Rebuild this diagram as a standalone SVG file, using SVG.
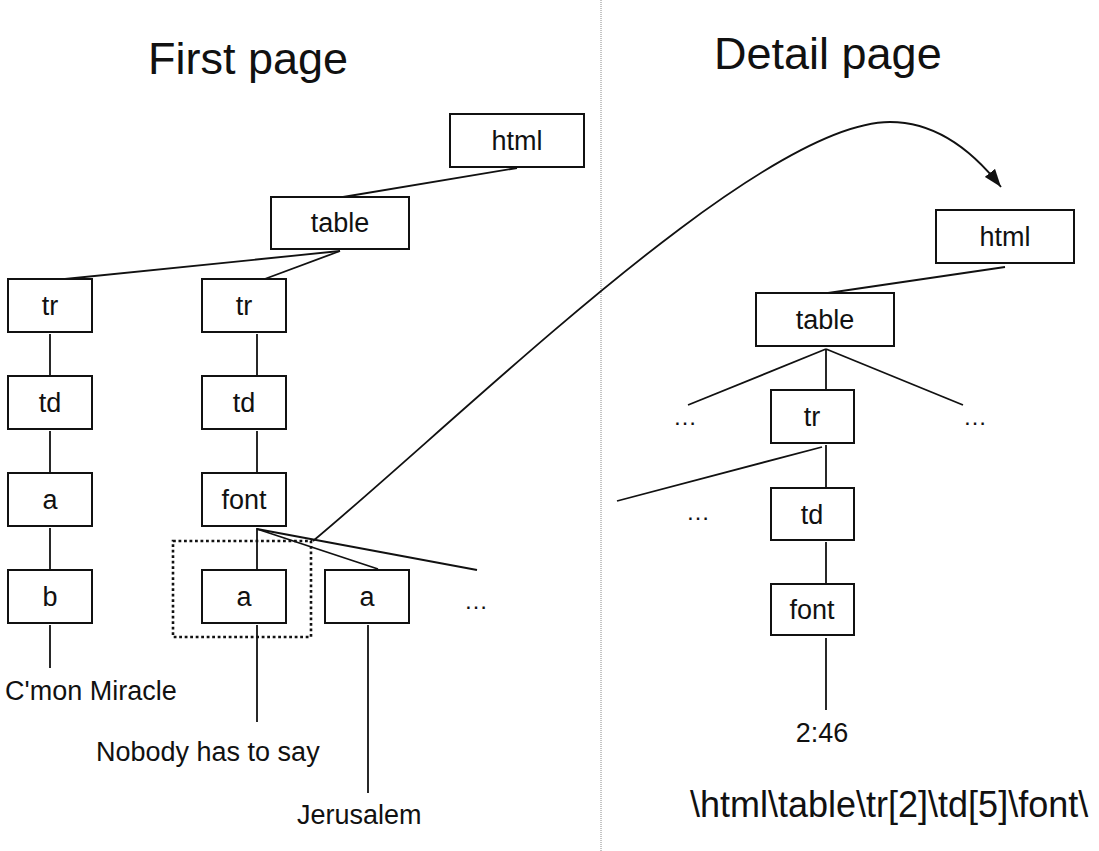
<svg xmlns="http://www.w3.org/2000/svg" width="1099" height="851" viewBox="0 0 1099 851">
  <style>
    .box { fill: #ffffff; stroke: #111111; stroke-width: 2; }
    .edge { fill: none; stroke: #111111; stroke-width: 1.8; }
    .lbl { font-family: "Liberation Sans", Arial, Helvetica, sans-serif; font-size: 27px; fill: #111111; text-anchor: middle; }
    .leaf { font-family: "Liberation Sans", Arial, Helvetica, sans-serif; font-size: 27px; fill: #111111; }
    .title { font-family: "Liberation Sans", Arial, Helvetica, sans-serif; font-size: 45px; fill: #111111; }
    .xpath { font-family: "Liberation Sans", Arial, Helvetica, sans-serif; font-size: 36px; fill: #111111; }
    .more { font-family: "Liberation Sans", Arial, Helvetica, sans-serif; font-size: 24px; fill: #111111; text-anchor: middle; }
  </style>
  <defs>
    <marker id="arrow" viewBox="0 0 18 13" refX="18" refY="6.5" markerWidth="18" markerHeight="13" markerUnits="userSpaceOnUse" orient="auto">
      <path d="M0,0 L18,6.5 L0,13 Z" fill="#111111"/>
    </marker>
  </defs>

  <rect width="1099" height="851" fill="#ffffff"/>

  <!-- page divider -->
  <line x1="601" y1="0" x2="601" y2="851" stroke="#8a8a8a" stroke-width="1" stroke-dasharray="1 1"/>

  <!-- headings -->
  <text class="title" x="148" y="74">First page</text>
  <text class="title" x="714" y="69">Detail page</text>

  <!-- tree edges -->
  <g id="connectors">
    <!-- first page -->
    <line class="edge" x1="517" y1="168" x2="343" y2="197"/>
    <line class="edge" x1="340" y1="251" x2="55" y2="280"/>
    <line class="edge" x1="340" y1="251" x2="262" y2="280"/>
    <line class="edge" x1="50" y1="334" x2="50" y2="376"/>
    <line class="edge" x1="50" y1="431" x2="50" y2="473"/>
    <line class="edge" x1="50" y1="528" x2="50" y2="570"/>
    <line class="edge" x1="50" y1="625" x2="50" y2="668"/>
    <line class="edge" x1="257" y1="334" x2="257" y2="376"/>
    <line class="edge" x1="257" y1="431" x2="257" y2="473"/>
    <line class="edge" x1="257" y1="528" x2="257" y2="570"/>
    <line class="edge" x1="257" y1="529" x2="378" y2="569"/>
    <line class="edge" x1="257" y1="529" x2="477" y2="570"/>
    <line class="edge" x1="257" y1="625" x2="257" y2="722"/>
    <line class="edge" x1="368" y1="625" x2="368" y2="793"/>
    <!-- detail page -->
    <line class="edge" x1="1005" y1="267" x2="828" y2="293"/>
    <line class="edge" x1="826" y1="349" x2="688" y2="405"/>
    <line class="edge" x1="826" y1="349" x2="963" y2="405"/>
    <line class="edge" x1="826" y1="349" x2="826" y2="390"/>
    <line class="edge" x1="822" y1="447" x2="617" y2="501"/>
    <line class="edge" x1="826" y1="445" x2="826" y2="488"/>
    <line class="edge" x1="826" y1="542" x2="826" y2="584"/>
    <line class="edge" x1="826" y1="638" x2="826" y2="710"/>
    <!-- link from the selected anchor to the detail page -->
    <path class="edge" d="M313,541 C470,410 760,122 890,122 C935,122 972,150 1001,187" marker-end="url(#arrow)"/>
  </g>

  <!-- selection around the first anchor -->
  <rect x="173" y="541" width="138" height="96" fill="none" stroke="#111111" stroke-width="2.6" stroke-dasharray="2.8 2.7"/>

  <!-- first page nodes -->
  <g id="fp-html"><rect class="box" x="450" y="114" width="134" height="53"/><text class="lbl" x="517" y="150">html</text></g>
  <g id="fp-table"><rect class="box" x="271" y="197" width="138" height="52"/><text class="lbl" x="340" y="232">table</text></g>
  <g id="fp-tr1"><rect class="box" x="8" y="279" width="84" height="53"/><text class="lbl" x="50" y="315">tr</text></g>
  <g id="fp-tr2"><rect class="box" x="202" y="279" width="84" height="53"/><text class="lbl" x="244" y="315">tr</text></g>
  <g id="fp-td1"><rect class="box" x="8" y="376" width="84" height="53"/><text class="lbl" x="50" y="412">td</text></g>
  <g id="fp-td2"><rect class="box" x="202" y="376" width="84" height="53"/><text class="lbl" x="244" y="412">td</text></g>
  <g id="fp-a1"><rect class="box" x="8" y="473" width="84" height="53"/><text class="lbl" x="50" y="509">a</text></g>
  <g id="fp-font"><rect class="box" x="202" y="473" width="84" height="53"/><text class="lbl" x="244" y="509">font</text></g>
  <g id="fp-b"><rect class="box" x="8" y="570" width="84" height="53"/><text class="lbl" x="50" y="606">b</text></g>
  <g id="fp-a2"><rect class="box" x="202" y="570" width="84" height="53"/><text class="lbl" x="244" y="606">a</text></g>
  <g id="fp-a3"><rect class="box" x="325" y="570" width="84" height="53"/><text class="lbl" x="367" y="606">a</text></g>
  <g id="fp-more"><text class="more" x="476" y="609">…</text></g>

  <!-- first page text leaves -->
  <g id="fp-leaf1"><text class="leaf" x="5" y="700">C'mon Miracle</text></g>
  <g id="fp-leaf2"><text class="leaf" x="96" y="761">Nobody has to say</text></g>
  <g id="fp-leaf3"><text class="leaf" x="297" y="824">Jerusalem</text></g>

  <!-- detail page nodes -->
  <g id="dp-html"><rect class="box" x="936" y="210" width="138" height="53"/><text class="lbl" x="1005" y="246">html</text></g>
  <g id="dp-table"><rect class="box" x="756" y="293" width="138" height="53"/><text class="lbl" x="825" y="329">table</text></g>
  <g id="dp-tr"><rect class="box" x="771" y="390" width="83" height="53"/><text class="lbl" x="812" y="426">tr</text></g>
  <g id="dp-td"><rect class="box" x="771" y="488" width="83" height="52"/><text class="lbl" x="812" y="524">td</text></g>
  <g id="dp-font"><rect class="box" x="771" y="584" width="83" height="51"/><text class="lbl" x="812" y="619">font</text></g>
  <g id="dp-more1"><text class="more" x="685" y="425">…</text></g>
  <g id="dp-more2"><text class="more" x="975" y="425">…</text></g>
  <g id="dp-more3"><text class="more" x="698" y="520">…</text></g>
  <g id="dp-leaf"><text class="lbl" x="822" y="742">2:46</text></g>

  <!-- path expression -->
  <text class="xpath" x="690" y="817">\html\table\tr[2]\td[5]\font\</text>
</svg>
